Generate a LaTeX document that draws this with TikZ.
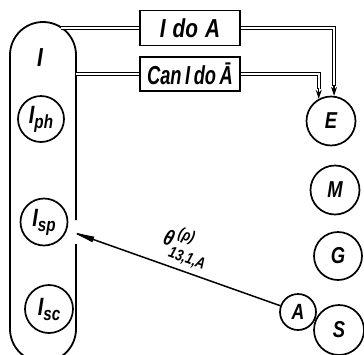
\documentclass[tikz,border=0pt]{standalone}
\usepackage{fontspec}
\usepackage{graphicx}
\setmainfont{Liberation Sans}[FakeStretch=0.8]
\usetikzlibrary{arrows.meta,calc}
\newcommand{\Sb}[2]{#1\raisebox{-5pt}{\fontsize{19}{19}\selectfont #2}}
\begin{document}
\begin{tikzpicture}[x=1pt,y=-1pt,
  lw/.style={line width=1.8pt},
  circ/.style={draw, circle, line width=1.7pt, inner sep=0pt},
  box/.style={draw, rectangle, line width=1.6pt, minimum width=100pt, inner sep=0pt},
  dbl/.style={double, double distance=1.8pt, line width=1.2pt},
  tipline/.style={line width=1.2pt, -{Stealth[length=9pt,width=6pt]}},
  big/.style={font=\bfseries\itshape\fontsize{26}{26}\selectfont},
  mid/.style={font=\bfseries\itshape\fontsize{23}{23}\selectfont},
  sml/.style={font=\bfseries\itshape\fontsize{25}{25}\selectfont}]
\useasboundingbox (0,0) rectangle (364,354);
\clip (0,0) rectangle (364,354);
% capsule
\draw[lw, rounded corners=33pt] (76,220) -- (76,22) -- (10,22) -- (10,362) -- (76,362) -- (76,244);
\coordinate (cap1) at (61,28);
\coordinate (cap2) at (76,74);
\node[font=\bfseries\itshape\fontsize{26}{26}\selectfont] (I) at (40,58) {I};
\node[circ, minimum size=46pt, sml] (Iph) at (41,119) {\Sb{I}{ph}};
\node[circ, minimum size=47pt, sml] (Isp) at (44,222) {\Sb{I}{sp}};
\node[circ, minimum size=48pt, sml] (Isc) at (49,309) {\Sb{I}{sc}};
% boxes
\node[box, minimum height=35pt, big] (b1) at (190,28) {I\hspace{7pt}do\hspace{7pt}A};
\node[box, minimum height=34pt, big] (b2) at (190,74) {\scalebox{0.88}[1]{Can\hspace{4pt}I\hspace{4pt}do\hspace{4pt}Ā}};
% right circles
\node[circ, minimum size=49pt, mid] (E) at (331,121) {E};
\node[circ, minimum size=49pt, mid] (M) at (335,190) {M};
\node[circ, minimum size=48pt, mid] (G) at (338,256) {G};
\node[circ, minimum size=36pt, font=\bfseries\itshape\fontsize{22}{22}\selectfont] (A) at (298,312) {A};
\node[circ, minimum size=50pt, mid] (S) at (339,330) {S};
% connectors
\draw[dbl] (cap1) -- (b1.west);
\draw[dbl] (cap2) -- (b2.west);
\draw[dbl] (b1.east) -| ([yshift=10pt]E.83);
\draw[tipline] ([yshift=11pt]E.83) -- (E.83);
\draw[dbl] (b2.east) -| ([yshift=10pt]E.119);
\draw[tipline] ([yshift=11pt]E.119) -- (E.119);
\draw[line width=1.5pt, -{Latex[length=28pt,width=6pt]}] (A) -- (Isp)
  node[pos=0.48, above=2pt, sloped, font=\bfseries\itshape\fontsize{22}{22}\selectfont]
  {θ\makebox[0pt][l]{\raisebox{10pt}{\fontsize{16}{16}\selectfont\hspace{3pt}(ρ)}}\raisebox{-11pt}{\fontsize{16}{16}\selectfont 13,1,A}};
\end{tikzpicture}
\end{document}
